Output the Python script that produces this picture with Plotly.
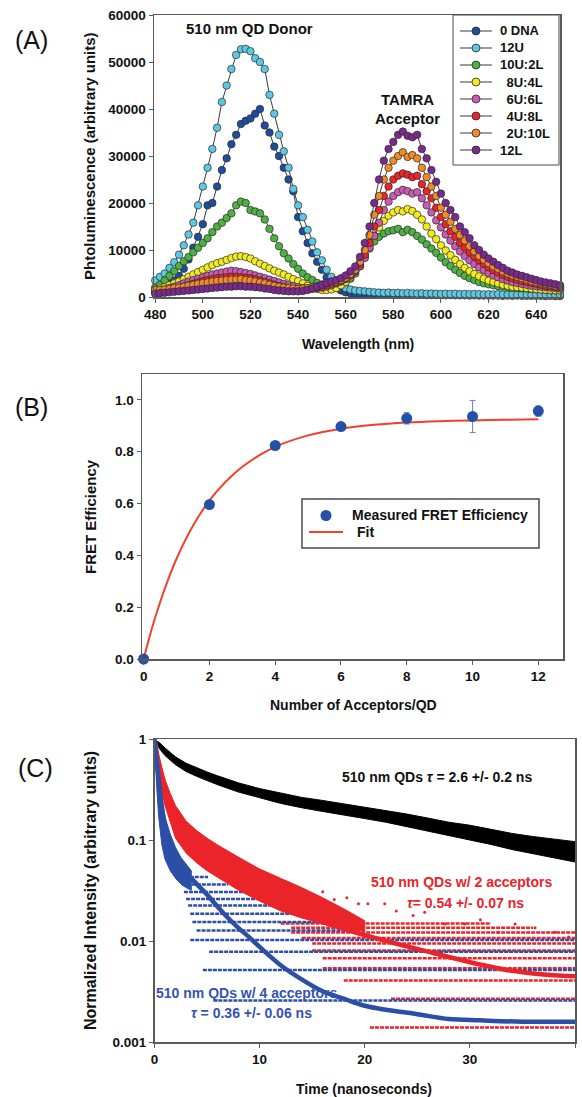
import plotly.graph_objects as go

W, H = 582, 1097
F = "Liberation Sans"

# ---------------- Panel A data ----------------
wavelength = list(range(480, 651, 2))
names_a = ["0 DNA", "12U", "10U:2L", "\u20028U:4L", "\u20026U:6L", "\u20024U:8L", "\u20022U:10L", "12L"]
colors_a = ["#1f4c9e", "#5cc8e2", "#4fb043", "#f3ec1c", "#c95bb4", "#ea2428", "#f28a2a", "#7a2a8c"]

dna0 = [1500, 1800, 2200, 2800, 3500, 4500, 6000, 8000, 10500, 12800,
        15500, 19500, 20000, 23500, 27000, 29500, 32500, 34500, 36800, 37500,
        38000, 39000, 40000, 36500, 35000, 32000, 30000, 27500, 25000, 22500,
        17000, 14000, 11500, 9300, 7500, 5800, 4200, 3000, 2000, 1400,
        1000, 800, 700, 650, 600, 600, 550, 550, 500, 500,
        500, 450, 500, 450, 450, 400, 450, 400, 400, 400,
        400, 350, 400, 350, 350, 350, 300, 350, 300, 300,
        300, 300, 300, 250, 300, 250, 300, 250, 250, 250,
        250, 250, 200, 250, 200, 200]
u12 = [3500, 4300, 5000, 6200, 7400, 9000, 11000, 13300, 15800, 19500,
       23500, 27500, 31500, 36000, 41500, 45000, 48500, 51500, 52700, 52800,
       52300, 50800, 50000, 48500, 43000, 39000, 34500, 31000, 27500, 23000,
       19500, 17000, 14300, 11800, 9500, 7800, 5800, 4300, 3200, 2400,
       1900, 1600, 1400, 1300, 1200, 1100, 1000, 950, 900, 950,
       850, 900, 800, 850, 800, 750, 800, 700, 750, 700,
       650, 700, 650, 700, 600, 650, 600, 650, 600, 550,
       600, 550, 600, 550, 500, 550, 500, 550, 500, 450,
       500, 450, 500, 450, 400, 450]
u10l2 = [2000, 2600, 3500, 4500, 5500, 6600, 7600, 8500, 9500, 10500,
         11500, 12500, 13800, 15000, 15800, 16800, 17800, 19500, 20300, 20000,
         18500, 18200, 17800, 16500, 14500, 12500, 10800, 9300, 8200, 7000,
         6000, 5000, 4200, 3600, 3000, 2600, 2400, 2300, 2400, 2700,
         3200, 3900, 5000, 6500, 8500, 10300, 11800, 12800, 13500, 14000,
         14200, 14500, 13800, 14300, 13800, 13000, 12200, 11200, 10300, 9400,
         8400, 7400, 6600, 5800, 5100, 4500, 4000, 3600, 3200, 2900,
         2700, 2500, 2300, 2200, 2100, 2000, 1900, 1850, 1800, 1700,
         1650, 1600, 1500, 1450, 1400, 1400]
u8l4 = [1500, 1800, 2100, 2500, 2900, 3300, 3800, 4300, 4800, 5300,
        5800, 6300, 6800, 7200, 7500, 7900, 8300, 8600, 8700, 8500,
        8200, 7600, 7100, 6600, 6100, 5600, 5200, 4800, 4300, 3800,
        3400, 2900, 2400, 2000, 1700, 1500, 1500, 1600, 1900, 2500,
        3200, 4200, 5500, 7000, 9000, 11000, 13000, 14800, 16200, 17300,
        18000, 18500, 18200, 18700, 18300, 17500, 16500, 15000, 13500, 12300,
        11000, 9900, 8900, 7900, 7000, 6200, 5500, 4900, 4400, 3900,
        3500, 3200, 2900, 2600, 2400, 2200, 2100, 2000, 1900, 1800,
        1700, 1600, 1550, 1500, 1450, 1400]
u6l6 = [1200, 1400, 1600, 1900, 2200, 2500, 2900, 3300, 3600, 3900,
        4200, 4500, 4800, 5000, 5200, 5400, 5600, 5500, 5300, 5100,
        4900, 4600, 4300, 4000, 3700, 3400, 3100, 2800, 2500, 2300,
        2100, 1900, 1800, 1800, 1900, 2000, 2200, 2500, 2900, 3300,
        3800, 4500, 5400, 6600, 8300, 10500, 13000, 15800, 18500, 20300,
        21500, 22300, 22800, 22500, 22000, 22300, 21000, 19500, 18000, 16300,
        14800, 13300, 12000, 10800, 9700, 8700, 7800, 7000, 6300, 5700,
        5100, 4600, 4200, 3800, 3500, 3200, 3000, 2800, 2600, 2400,
        2300, 2200, 2100, 2000, 1900, 1800]
u4l8 = [1000, 1100, 1300, 1500, 1700, 1900, 2200, 2500, 2800, 3100,
        3400, 3600, 3800, 4000, 4100, 4200, 4300, 4300, 4200, 4100,
        4000, 3800, 3500, 3200, 2900, 2600, 2300, 2100, 1900, 1700,
        1600, 1600, 1700, 1800, 2000, 2200, 2500, 2800, 3100, 3500,
        4000, 4700, 5600, 7000, 9000, 11500, 15000, 18500, 21500, 23500,
        25000, 25800, 26300, 26000, 25500, 25800, 24000, 22500, 21000, 19000,
        17000, 15500, 14000, 12800, 11500, 10500, 9500, 8600, 7800, 7000,
        6300, 5700, 5200, 4700, 4300, 4000, 3700, 3400, 3200, 3000,
        2800, 2600, 2400, 2300, 2200, 2100]
u2l10 = [1500, 1500, 1600, 1700, 1900, 2000, 2200, 2400, 2600, 2800,
         3000, 3100, 3300, 3400, 3500, 3600, 3700, 3700, 3800, 3600,
         3500, 3300, 3100, 2900, 2600, 2400, 2200, 2000, 1900, 1800,
         1700, 1800, 1900, 2100, 2300, 2600, 2900, 3100, 3300, 3600,
         4100, 4900, 5800, 7500, 10000, 13200, 17500, 21500, 25000, 27500,
         29000, 30000, 30800, 29800, 30200, 29500, 27500, 25500, 23500, 21500,
         19000, 17500, 16000, 14500, 13200, 12000, 10800, 9700, 8700, 7900,
         7200, 6500, 6000, 5400, 5000, 4600, 4300, 4000, 3700, 3400,
         3200, 3000, 2800, 2600, 2400, 2300]
l12 = [700, 800, 900, 1000, 1100, 1200, 1300, 1400, 1500, 1600,
       1700, 1800, 1900, 2000, 2100, 2200, 2200, 2300, 2300, 2200,
       2200, 2100, 2000, 1800, 1700, 1500, 1400, 1300, 1200, 1200,
       1200, 1300, 1500, 1800, 2200, 2600, 3000, 3300, 3600, 4000,
       4600, 5500, 6500, 8500, 11500, 15000, 20000, 25000, 29000, 31500,
       33000, 34500, 35200, 34300, 34000, 34500, 31500, 29500, 27000, 24500,
       22000, 20000, 18500, 17000, 15000, 13800, 12500, 11000, 10000, 9000,
       8200, 7500, 6800, 6200, 5600, 5200, 4800, 4500, 4200, 3900,
       3600, 3300, 3100, 2900, 2700, 2500]
series_a = [dna0, u12, u10l2, u8l4, u6l6, u4l8, u2l10, l12]

# ---------------- Panel B data ----------------
acceptors = [0, 2, 4, 6, 8, 10, 12]
fret_eff = [0.0, 0.596, 0.824, 0.897, 0.929, 0.936, 0.957]
fret_err = [0.0, 0.01, 0.01, 0.01, 0.022, 0.062, 0.02]
fit_n = [0, 0.25, 0.5, 0.75, 1, 1.5, 2, 2.5, 3, 3.5, 4, 5, 6, 7, 8, 9, 10, 11, 12]
fit_e = [0, 0.118, 0.219, 0.308, 0.387, 0.514, 0.612, 0.685, 0.742, 0.785, 0.819,
         0.863, 0.889, 0.904, 0.913, 0.918, 0.921, 0.923, 0.925]
legend_b = ["Measured FRET Efficiency", "Fit"]

# ---------------- Panel C data ----------------
black_t = [0, 0.5, 1, 2, 3, 4, 5, 6, 8, 10, 12, 14, 16, 18, 20, 22, 24, 26, 28, 30, 32, 34, 36, 38, 40]
black_up = [1.0, 0.92, 0.82, 0.67, 0.58, 0.52, 0.475, 0.435, 0.37, 0.325, 0.292, 0.266, 0.248, 0.23, 0.214,
            0.198, 0.182, 0.166, 0.151, 0.141, 0.129, 0.117, 0.109, 0.102, 0.097]
black_lo = [1.0, 0.80, 0.69, 0.56, 0.48, 0.43, 0.39, 0.355, 0.30, 0.264, 0.232, 0.21, 0.193, 0.177, 0.164,
            0.151, 0.137, 0.124, 0.111, 0.101, 0.091, 0.081, 0.074, 0.067, 0.061]

red_band_t = [0, 0.25, 0.5, 1, 1.5, 2, 3, 4, 5, 6, 8, 10, 12, 14, 16, 18, 20]
red_band_up = [1.0, 0.8, 0.6, 0.4, 0.29, 0.22, 0.155, 0.125, 0.105, 0.09, 0.068, 0.052, 0.042, 0.034, 0.027, 0.021, 0.016]
red_band_lo = [1.0, 0.55, 0.38, 0.22, 0.15, 0.105, 0.075, 0.06, 0.05, 0.043, 0.032, 0.025, 0.02, 0.017, 0.015, 0.0135, 0.0125]

blue_band_t = [0, 0.2, 0.4, 0.7, 1.0, 1.5, 2.0, 2.5, 3.0, 3.5]
blue_band_up = [1.0, 0.6, 0.4, 0.25, 0.17, 0.115, 0.085, 0.068, 0.058, 0.05]
blue_band_lo = [1.0, 0.35, 0.17, 0.09, 0.065, 0.05, 0.042, 0.037, 0.034, 0.032]

blue_levels = [0.0433, 0.0366, 0.0307, 0.0263, 0.0226, 0.0187, 0.0155, 0.0128, 0.0103, 0.0079, 0.0052, 0.0026]
blue_start = [2.4, 2.6, 2.8, 3.0, 3.2, 3.4, 3.6, 4.0, 3.4, 5.2, 4.6, 5.6]
blue_end = [5.1, 7.0, 8.6, 10.2, 12.4, 14.0, 16.8, 18.7, 40, 40, 40, 40]

red_levels = [0.0014, 0.0027, 0.0041, 0.0054, 0.0068, 0.0081, 0.0095, 0.0108, 0.0122, 0.0136, 0.015]
red_start = [20.5, 22.5, 18, 16, 16, 15, 15, 14, 13, 13, 12]
red_end = [40, 40, 40, 40, 40, 40, 40, 40, 40, 36, 32]

red_sparse_t = [12.5, 13.8, 15.2, 16.0, 17.1, 18.3, 19.4, 20.3, 21.9, 23.0,
                24.6, 25.7, 27.6, 29.5, 31.0, 32.7, 34.3, 36.2, 38.1, 39.4]
red_sparse_v = [0.034, 0.030, 0.028, 0.031, 0.026, 0.027, 0.0235, 0.0235, 0.0235, 0.020,
                0.018, 0.0194, 0.0148, 0.0148, 0.0163, 0.0123, 0.0148, 0.0136, 0.0123, 0.011]

red_fit_t = [0, 0.25, 0.5, 0.75, 1, 1.5, 2, 3, 4, 5, 6, 8, 10, 12, 14, 16, 18, 20, 22, 24, 26, 28, 30, 32, 34, 36, 38, 40]
red_fit_v = [1, 0.7, 0.52, 0.41, 0.33, 0.22, 0.16, 0.105, 0.078, 0.062, 0.052, 0.037, 0.028, 0.0225, 0.0185,
             0.0155, 0.0133, 0.0115, 0.0101, 0.0089, 0.0079, 0.007, 0.0062, 0.0056, 0.0051, 0.0048, 0.0046, 0.0045]
blue_fit_t = [0, 0.25, 0.5, 0.75, 1, 1.5, 2, 3, 4, 5, 6, 7, 8, 9, 10, 12, 14, 16, 18, 20, 22, 25, 28, 31, 35, 40]
blue_fit_v = [1, 0.55, 0.32, 0.2, 0.14, 0.09, 0.068, 0.048, 0.037, 0.029, 0.022, 0.017, 0.0135, 0.011, 0.0088,
              0.0058, 0.0042, 0.0032, 0.0027, 0.0023, 0.0021, 0.0019, 0.0017, 0.00165, 0.0016, 0.0016]

RED = "#ea2428"
BLUE = "#2b4fa6"
MARK_B = "#2450a8"
FIT_B = "#f2402a"

fig = go.Figure()

# Panel A
for name, vals, col in zip(names_a, series_a, colors_a):
    fig.add_trace(go.Scatter(
        x=wavelength, y=vals, mode="lines+markers", name=name,
        line=dict(color="#3a3a3a", width=1),
        marker=dict(color=col, size=7.5, line=dict(color="#2a2a2a", width=0.7)),
        xaxis="x", yaxis="y", showlegend=False, cliponaxis=False))

# Panel B
fig.add_trace(go.Scatter(
    x=fit_n, y=fit_e, mode="lines", name=legend_b[1],
    line=dict(color=FIT_B, width=2, shape="spline"),
    xaxis="x2", yaxis="y2", showlegend=False))
fig.add_trace(go.Scatter(
    x=acceptors, y=fret_eff, mode="markers", name=legend_b[0],
    marker=dict(color=MARK_B, size=11),
    error_y=dict(type="data", array=fret_err, color="#7080c4", thickness=1, width=3),
    xaxis="x2", yaxis="y2", showlegend=False, cliponaxis=False))

# Panel C
def band(t, up, lo, col):
    return go.Scatter(x=list(t) + list(t)[::-1], y=list(up) + list(lo)[::-1],
                      fill="toself", fillcolor=col, mode="lines",
                      line=dict(color=col, width=1), hoverinfo="skip",
                      showlegend=False, xaxis="x3", yaxis="y3")

fig.add_trace(band(black_t, black_up, black_lo, "#000000"))
for lv, t0, t1 in zip(red_levels, red_start, red_end):
    fig.add_trace(go.Scatter(x=[t0, t1], y=[lv, lv], mode="lines",
                             line=dict(color=RED, width=2.5, dash="4px,1px"),
                             showlegend=False, xaxis="x3", yaxis="y3"))
for lv, t0, t1 in zip(blue_levels, blue_start, blue_end):
    fig.add_trace(go.Scatter(x=[t0, t1], y=[lv, lv], mode="lines",
                             line=dict(color=BLUE, width=2.5, dash="4px,1px"),
                             showlegend=False, xaxis="x3", yaxis="y3"))
fig.add_trace(go.Scatter(x=red_sparse_t, y=red_sparse_v, mode="markers",
                         marker=dict(color=RED, size=3),
                         showlegend=False, xaxis="x3", yaxis="y3"))
fig.add_trace(band(red_band_t, red_band_up, red_band_lo, RED))
fig.add_trace(band(blue_band_t, blue_band_up, blue_band_lo, BLUE))
fig.add_trace(go.Scatter(x=red_fit_t, y=red_fit_v, mode="lines",
                         line=dict(color=RED, width=4.5, shape="spline"),
                         showlegend=False, xaxis="x3", yaxis="y3"))
fig.add_trace(go.Scatter(x=blue_fit_t, y=blue_fit_v, mode="lines",
                         line=dict(color=BLUE, width=4.5, shape="spline"),
                         showlegend=False, xaxis="x3", yaxis="y3"))

# ---------------- axes ----------------
tickfont = dict(family=F, size=13.5, color="#111111", weight="bold")
def axis(**kw):
    d = dict(showline=True, linecolor="#5a5a5a", linewidth=1.5, mirror=True,
             ticks="outside", ticklen=4, tickcolor="#5a5a5a", tickwidth=1,
             showgrid=False, zeroline=False, tickfont=tickfont, fixedrange=True,
             automargin=False)
    d.update(kw)
    return d

def px_x(p):
    return p / W

def px_y(p):
    return 1 - p / H

fig.update_layout(
    template="none",
    width=W, height=H, margin=dict(l=0, r=0, t=0, b=0, pad=0, autoexpand=False),
    paper_bgcolor="white", plot_bgcolor="white", showlegend=False,
    xaxis=axis(domain=[px_x(154), px_x(560)], range=[479.5, 650], anchor="y",
               tickvals=list(range(480, 641, 20))),
    yaxis=axis(domain=[px_y(297), px_y(15)], range=[0, 60000], anchor="x",
               tickvals=list(range(0, 60001, 10000)), tickformat="d"),
    xaxis2=axis(domain=[px_x(142), px_x(563)], range=[-0.05, 12.75], anchor="y2",
                tickvals=acceptors),
    yaxis2=axis(domain=[px_y(659), px_y(374)], range=[0, 1.1], anchor="x2",
                tickvals=[0, 0.2, 0.4, 0.6, 0.8, 1.0], tickformat=".1f"),
    xaxis3=axis(domain=[px_x(154.5), px_x(575)], range=[0, 40], anchor="y3",
                tickvals=[0, 10, 20, 30, 40]),
    yaxis3=axis(domain=[px_y(1042.3), px_y(739.3)], type="log", range=[-3, 0], anchor="x3",
                tickvals=[0.001, 0.01, 0.1, 1], ticktext=["0.001", "0.01", "0.1", "1"]),
)

ann = []
shapes = []
def txt(text, x, y, size, color="#111111", angle=0, bold=True, xanchor="center"):
    t = "<b>" + text + "</b>" if bold else text
    ann.append(dict(text=t, x=px_x(x), y=px_y(y), xref="paper", yref="paper",
                    xanchor=xanchor, yanchor="middle", showarrow=False, textangle=angle,
                    font=dict(family=F, size=size, color=color)))

def rect(x0, y0, x1, y1, width=1):
    shapes.append(dict(type="rect", xref="paper", yref="paper",
                       x0=px_x(x0), x1=px_x(x1), y0=px_y(y1), y1=px_y(y0),
                       line=dict(color="#4a4a4a", width=width), fillcolor="white", layer="above"))

def hline(x0, x1, y, color, width):
    shapes.append(dict(type="line", xref="paper", yref="paper",
                       x0=px_x(x0), x1=px_x(x1), y0=px_y(y), y1=px_y(y),
                       line=dict(color=color, width=width), layer="above"))

def dot(cx, cy, r, color, edge=None):
    shapes.append(dict(type="circle", xref="paper", yref="paper",
                       x0=px_x(cx - r), x1=px_x(cx + r), y0=px_y(cy + r), y1=px_y(cy - r),
                       fillcolor=color, line=dict(color=edge or color, width=0.8 if edge else 0),
                       layer="above"))

# legend A (drawn)
rect(453, 15, 559, 165)
for i, (name, col) in enumerate(zip(names_a, colors_a)):
    yy = 31 + 17 * i
    hline(460, 492, yy, "#3a3a3a", 1)
    dot(476, yy, 4, col, "#2a2a2a")
    txt(name, 498, yy, 13, xanchor="left")

# legend B (drawn)
rect(302, 499, 539, 548, width=1.5)
dot(326, 515.5, 5.5, MARK_B)
txt(legend_b[0], 350, 515.5, 14, xanchor="left")
hline(309, 343, 532, FIT_B, 2)
txt(legend_b[1], 355, 532, 14, xanchor="left")

txt("(A)", 31, 40, 25, bold=False)
txt("(B)", 31, 407, 25, bold=False)
txt("(C)", 35, 768, 25, bold=False)
txt("Phtoluminescence (arbitrary units)", 90, 156, 15, angle=-90)
txt("Wavelength (nm)", 358, 344, 14)
txt("FRET Efficiency", 90, 517, 15, angle=-90)
txt("Number of Acceptors/QD", 354, 705, 14)
txt("Normalized Intensity (arbitrary units)", 90, 891, 16, angle=-90)
txt("Time (nanoseconds)", 364, 1089, 14)
txt("510 nm QD Donor", 250, 29, 15)
txt("TAMRA", 407, 99, 15)
txt("Acceptor", 407, 118, 15)
txt("510 nm QDs <i>\u03c4</i> = 2.6 +/- 0.2 ns", 437, 777, 14)
txt("510 nm QDs w/ 2 acceptors", 462, 882, 14, color=RED)
txt("<i>\u03c4</i>= 0.54 +/- 0.07 ns", 465, 903, 14, color=RED)
txt("510 nm QDs w/ 4 acceptors", 247, 993, 14, color="#3553b0")
txt("<i>\u03c4</i> = 0.36 +/- 0.06 ns", 251, 1013, 14, color="#3553b0")
fig.update_layout(annotations=ann, shapes=shapes)

fig.write_html("out.html", config={"displayModeBar": False, "staticPlot": True},
               post_script="document.body.style.margin='0';document.body.style.overflow='hidden';")
